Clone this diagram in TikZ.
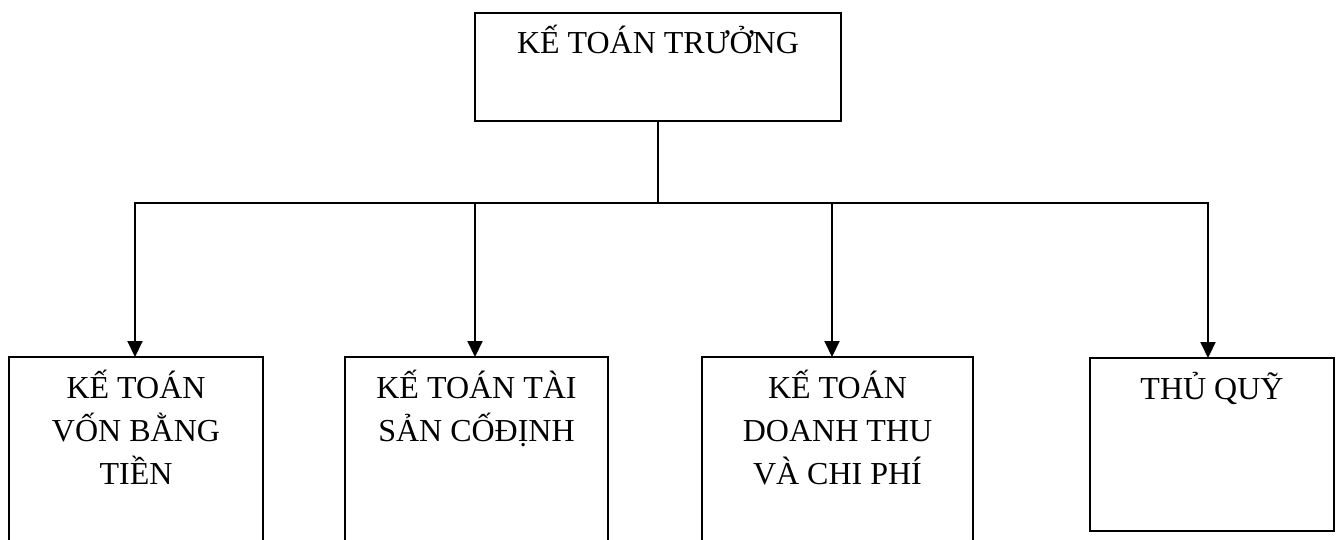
\documentclass[tikz,border=0pt]{standalone}
\usepackage{fontspec}
\setmainfont{Liberation Serif}
\usetikzlibrary{arrows.meta}

% unit box: width, height, text (first baseline 41pt below the top edge)
\newcommand{\unitbox}[3]{\parbox[t][#2][t]{#1}{\centering\rule{0pt}{41pt}#3}}

\begin{document}
\begin{tikzpicture}[x=1pt,y=-1pt,
  orgbox/.style={draw, line width=2.1pt, rectangle, inner sep=0pt, outer sep=0pt,
                 anchor=north west, font=\fontsize{32}{43}\selectfont},
  link/.style={line width=2.1pt},
  arrowlink/.style={link, -{Triangle[length=16pt,width=15pt]}}]

  \fill[white] (0,0) rectangle (1338,540);
  \useasboundingbox (0,0) rectangle (1338,540);

  % head of the department
  \node[orgbox] (chief) at (475,13) {\unitbox{366pt}{108pt}{KẾ TOÁN TRƯỞNG}};

  % subordinate units
  \node[orgbox] (cash)    at (9,357)    {\unitbox{254pt}{200pt}{KẾ TOÁN\\VỐN BẰNG\\TIỀN}};
  \node[orgbox] (assets)  at (345,357)  {\unitbox{263pt}{200pt}{KẾ TOÁN TÀI\\SẢN CỐĐỊNH}};
  \node[orgbox] (revenue) at (702,357)  {\unitbox{271pt}{200pt}{KẾ TOÁN\\DOANH THU\\VÀ CHI PHÍ}};
  \node[orgbox] (cashier) at (1090,358) {\unitbox{244pt}{173pt}{THỦ QUỸ}};

  % distribution bus
  \coordinate (hub) at (chief.south |- 0,203);
  \coordinate (d1) at (135,203);
  \coordinate (d2) at (475,203);
  \coordinate (d3) at (832,203);
  \coordinate (d4) at (1208,203);

  \draw[link] (chief.south) -- (hub);
  \draw[link, line cap=rect] (d1) -- (d4);
  \draw[arrowlink] (d1) -- (d1 |- cash.north);
  \draw[arrowlink] (d2) -- (d2 |- assets.north);
  \draw[arrowlink] (d3) -- (d3 |- revenue.north);
  \draw[arrowlink] (d4) -- (d4 |- cashier.north);
\end{tikzpicture}
\end{document}
